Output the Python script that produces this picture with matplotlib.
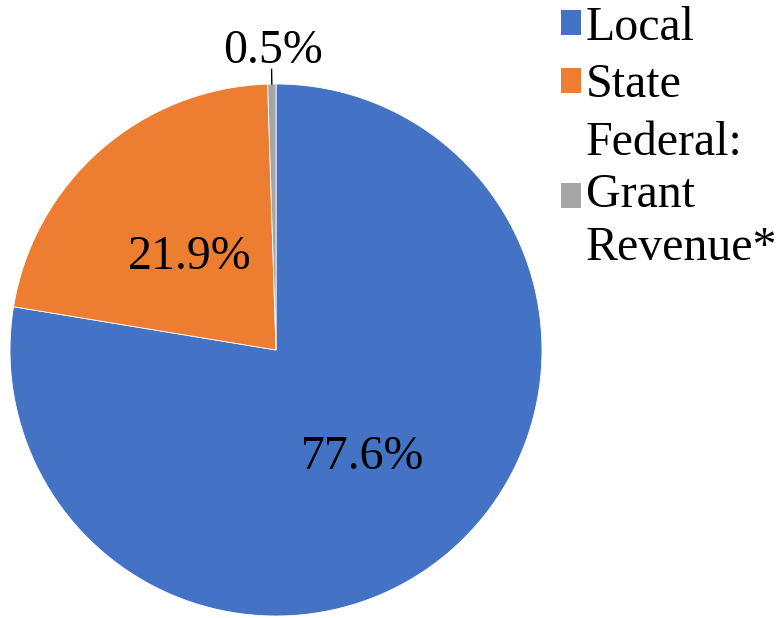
import matplotlib
matplotlib.use("Agg")
import matplotlib.pyplot as plt
from matplotlib.patches import Patch
import numpy as np

categories = ["Local", "State", "Federal:\nGrant\nRevenue*"]
values = [77.6, 21.9, 0.5]
pct_labels = ["77.6%", "21.9%", "0.5%"]
colors = ["#4472C4", "#ED7D31", "#A5A5A5"]

plt.rcParams['font.family'] = ['Liberation Serif', 'DejaVu Serif']
FS = 34.5

W, H = 779, 618
fig = plt.figure(figsize=(W / 100, H / 100), dpi=100)
# square axes holding the pie
cx, cy, r = 276, 350, 266
ax = fig.add_axes([(cx - r) / W, (H - cy - r) / H, 2 * r / W, 2 * r / H])

wedges, _ = ax.pie(values, colors=colors, startangle=90, counterclock=False,
                   radius=1.0, wedgeprops=dict(edgecolor='white', linewidth=0.6))
ax.set_xlim(-1, 1)
ax.set_ylim(-1, 1)
ax.set_aspect('equal')
ax.axis('off')

label_r = [0.505, 0.49, 1.13]
for w, lab, lr in zip(wedges, pct_labels, label_r):
    ang = np.deg2rad((w.theta1 + w.theta2) / 2)
    x, y = lr * np.cos(ang), lr * np.sin(ang)
    if lr > 1:
        ax.plot([np.cos(ang), 1.055 * np.cos(ang)], [np.sin(ang), 1.055 * np.sin(ang)],
                color='black', lw=1.0, clip_on=False)
        ax.text(x + 0.005, y - 0.005, lab, ha='center', va='center', fontsize=FS, color='black')
    else:
        ax.text(x - 0.003, y - 0.018, lab, ha='center', va='center', fontsize=FS, color='black')

handles = [Patch(facecolor=c, edgecolor='none') for c in colors]
leg = fig.legend(handles, categories, loc='upper left',
                 bbox_to_anchor=(561 / W, 1 - 6 / H), bbox_transform=fig.transFigure,
                 frameon=False, fontsize=FS, borderpad=0, borderaxespad=0,
                 handlelength=0.42, handleheight=0.42, handletextpad=0.1,
                 labelspacing=0.28)
for t in leg.get_texts():
    t.set_linespacing(1.25)

fig.savefig("out.png", dpi=100)
